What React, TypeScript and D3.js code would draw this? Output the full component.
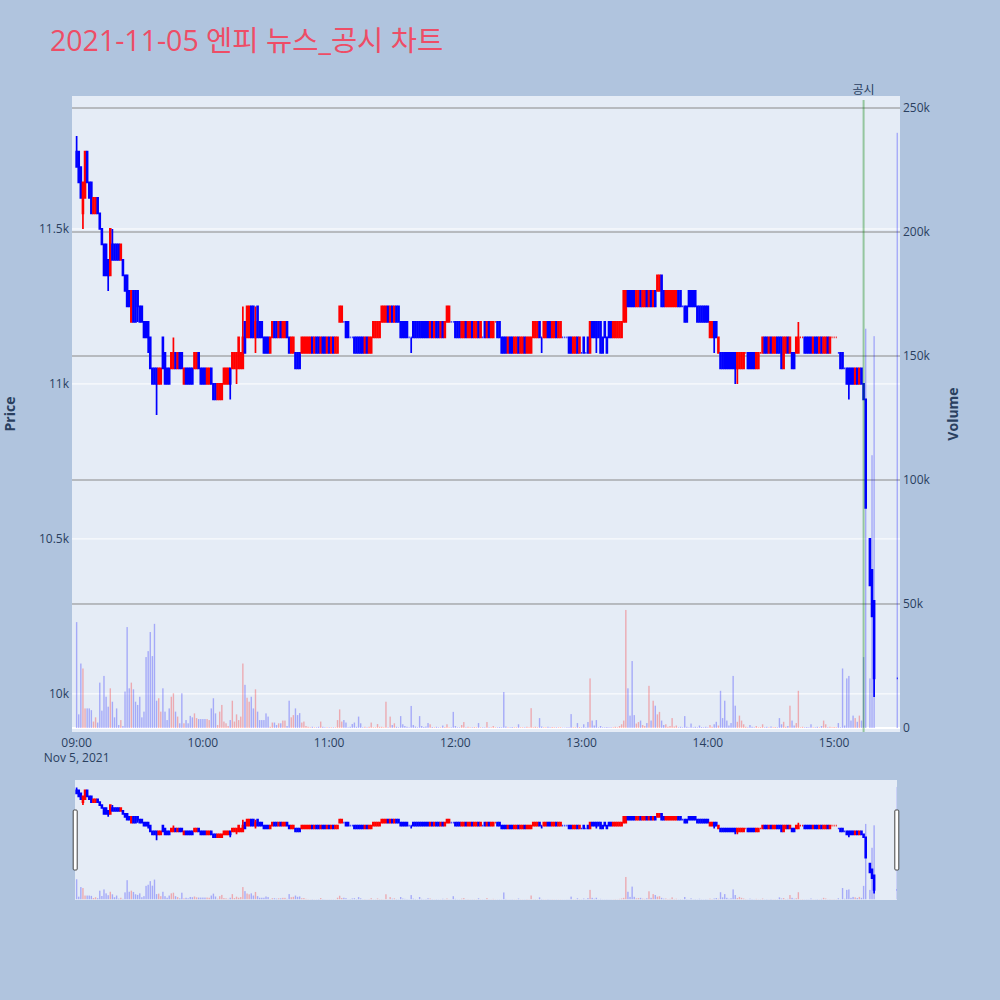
import * as d3 from 'd3';

// 1-minute candles of 엔피, 2021-11-05, index 0 = 09:00 (null = no trade, VI halt)
const SESSION_OPEN = Date.UTC(2021, 10, 5, 9, 0);
const MINUTE = 60000;

const opens: (number | null)[] = [
  11750, 11750, 11700, 11550, 11600, 11750, 11650, 11650, 11550, 11550,
  11600, 11550, 11500, 11450, 11450, 11400, 11350, 11450, 11450, 11450,
  11450, 11400, 11400, 11350, 11350, 11300, 11200, 11300, 11300, 11300,
  11250, 11250, 11200, 11200, 11200, 11150, 11050, 11050, 11050, 11000,
  11000, 11150, 11100, 11050, 11050, 11050, 11050, 11100, 11050, 11100,
  11100, 11000, 11050, 11050, 11050, 11050, 11050, 11050, 11100, 11050,
  11050, 11050, 11000, 11000, 11050, 11000, 11000, 10950, 10950, 10950,
  11000, 11000, 11000, 11050, 11050, 11050, 11050, 11050, 11050, 11050,
  11200, 11150, 11150, 11250, 11250, 11150, 11250, 11200, 11200, 11150,
  11150, 11150, 11100, 11150, 11200, 11200, 11150, 11200, 11150, 11150,
  11200, 11150, 11100, 11100, 11100, 11100, 11100, 11100, 11100, 11100,
  11100, 11100, 11150, 11100, 11150, 11150, 11100, 11150, 11150, 11100,
  11150, 11100, 11150, 11100, 11100, 11200, 11200, 11200, 11200, 11200,
  11150, 11150, 11150, 11150, 11150, 11150, 11150, 11100, 11150, 11100,
  11100, 11150, 11150, 11150, 11150, 11200, 11200, 11200, 11250, 11200,
  11250, 11200, 11250, 11250, 11200, 11200, 11200, 11200, 11150, 11150,
  11200, 11200, 11200, 11200, 11200, 11200, 11200, 11200, 11150, 11200,
  11150, 11200, 11200, 11150, 11200, 11150, 11200, 11200, 11200, 11200,
  11200, 11200, 11200, 11150, 11150, 11200, 11150, 11150, 11200, 11150,
  11150, 11200, 11150, 11150, 11200, 11150, 11200, 11150, 11150, 11200,
  11200, 11200, 11150, 11150, 11150, 11100, 11150, 11150, 11100, 11100,
  11150, 11100, 11100, 11150, 11100, 11100, 11100, 11150, 11150, 11150,
  11200, 11150, 11150, 11150, 11200, 11200, 11150, 11150, 11200, 11150,
  11150, 11150, 11150, 11150, 11150, 11150, 11100, 11100, 11150, 11100,
  11100, 11150, 11100, 11150, 11100, 11200, 11200, 11200, 11200, 11200,
  11150, 11200, 11150, 11200, 11200, 11150, 11150, 11150, 11150, 11150,
  11200, 11200, 11300, 11300, 11300, 11300, 11250, 11250, 11300, 11250,
  11250, 11300, 11250, 11300, 11250, 11300, 11300, 11300, 11350, 11300,
  11250, 11250, 11250, 11250, 11250, 11250, 11300, 11300, 11250, 11250,
  11250, 11300, 11300, 11300, 11300, 11250, 11250, 11250, 11250, 11250,
  11250, 11150, 11150, 11200, 11200, 11100, 11100, 11100, 11100, 11100,
  11100, 11100, 11100, 11100, 11050, 11050, 11050, 11050, 11100, 11100,
  11100, 11100, 11100, 11050, 11050, 11100, 11100, 11150, 11150, 11100,
  11150, 11100, 11100, 11150, 11150, 11150, 11050, 11100, 11150, 11100,
  11100, 11100, 11100, 11100, 11150, 11150, 11150, 11150, 11150, 11150,
  11100, 11150, 11150, 11100, 11150, 11100, 11100, 11150, 11100, 11150,
  11150, 11150, 11100, 11100, 11100, 11050, 11050, 11050, 11050, 11050,
  11000, 11050, 11000, 11050, 11000, 10950, null, 10500, 10400, 10300,
];

const highs: (number | null)[] = [
  11800, 11750, 11700, 11650, 11750, 11750, 11650, 11650, 11600, 11600,
  11600, 11550, 11500, 11450, 11450, 11400, 11500, 11500, 11450, 11450,
  11450, 11450, 11400, 11350, 11350, 11300, 11300, 11300, 11300, 11300,
  11250, 11250, 11200, 11200, 11200, 11150, 11050, 11050, 11050, 11050,
  11050, 11150, 11100, 11050, 11050, 11100, 11150, 11100, 11100, 11100,
  11100, 11050, 11050, 11050, 11050, 11050, 11100, 11100, 11100, 11050,
  11050, 11050, 11050, 11050, 11050, 11000, 11000, 11000, 11000, 11000,
  11050, 11050, 11050, 11050, 11100, 11100, 11100, 11150, 11100, 11250,
  11200, 11250, 11250, 11250, 11250, 11250, 11250, 11200, 11200, 11150,
  11150, 11150, 11150, 11200, 11200, 11200, 11200, 11200, 11200, 11200,
  11200, 11150, 11150, 11150, 11100, 11100, 11100, 11150, 11150, 11150,
  11150, 11150, 11150, 11150, 11150, 11150, 11150, 11150, 11150, 11150,
  11150, 11150, 11150, 11150, 11150, 11250, 11250, 11200, 11200, 11200,
  11150, 11150, 11150, 11150, 11150, 11150, 11150, 11150, 11150, 11150,
  11150, 11200, 11200, 11200, 11200, 11250, 11250, 11250, 11250, 11250,
  11250, 11250, 11250, 11250, 11200, 11200, 11200, 11200, 11150, 11150,
  11200, 11200, 11200, 11200, 11200, 11200, 11200, 11200, 11200, 11200,
  11200, 11200, 11200, 11200, 11200, 11200, 11250, 11250, 11200, 11200,
  11200, 11200, 11200, 11200, 11200, 11200, 11200, 11200, 11200, 11200,
  11200, 11200, 11200, 11150, 11200, 11200, 11200, 11200, 11200, 11200,
  11200, 11200, 11150, 11150, 11150, 11150, 11150, 11150, 11150, 11150,
  11150, 11150, 11150, 11150, 11150, 11150, 11150, 11200, 11200, 11200,
  11200, 11150, 11200, 11200, 11200, 11200, 11200, 11200, 11200, 11200,
  11200, 11150, 11150, 11150, 11150, 11150, 11150, 11150, 11150, 11150,
  11100, 11150, 11100, 11150, 11200, 11200, 11200, 11200, 11200, 11200,
  11150, 11200, 11150, 11200, 11200, 11200, 11200, 11200, 11200, 11200,
  11300, 11300, 11300, 11300, 11300, 11300, 11300, 11300, 11300, 11300,
  11300, 11300, 11300, 11300, 11300, 11300, 11350, 11350, 11350, 11300,
  11300, 11300, 11300, 11300, 11300, 11300, 11300, 11300, 11250, 11250,
  11250, 11300, 11300, 11300, 11300, 11250, 11250, 11250, 11250, 11250,
  11250, 11200, 11200, 11200, 11200, 11150, 11100, 11100, 11100, 11100,
  11100, 11100, 11100, 11100, 11100, 11100, 11100, 11100, 11100, 11100,
  11100, 11100, 11100, 11100, 11100, 11100, 11150, 11150, 11150, 11150,
  11150, 11150, 11150, 11150, 11150, 11150, 11150, 11150, 11150, 11150,
  11100, 11100, 11150, 11200, 11150, 11150, 11150, 11150, 11150, 11150,
  11150, 11150, 11150, 11150, 11150, 11150, 11150, 11150, 11150, 11150,
  11150, 11150, 11100, 11100, 11100, 11050, 11050, 11050, 11050, 11050,
  11050, 11050, 11050, 11050, 11000, 10950, null, 10500, 10400, 10300,
];

const lows: (number | null)[] = [
  11700, 11650, 11600, 11500, 11600, 11650, 11600, 11550, 11550, 11550,
  11550, 11500, 11450, 11350, 11350, 11300, 11350, 11400, 11400, 11400,
  11400, 11400, 11350, 11300, 11250, 11250, 11200, 11200, 11200, 11200,
  11200, 11200, 11150, 11150, 11100, 11050, 11000, 11000, 10900, 11000,
  11000, 11050, 11000, 11000, 11000, 11050, 11050, 11050, 11050, 11050,
  11050, 11000, 11000, 11000, 11000, 11000, 11050, 11050, 11050, 11000,
  11000, 11000, 11000, 11000, 11000, 10950, 10950, 10950, 10950, 10950,
  11000, 11000, 11000, 10950, 11050, 11050, 11000, 11050, 11050, 11050,
  11100, 11150, 11150, 11150, 11150, 11100, 11150, 11150, 11150, 11100,
  11100, 11100, 11100, 11150, 11150, 11150, 11150, 11150, 11150, 11150,
  11150, 11100, 11100, 11100, 11050, 11050, 11050, 11100, 11100, 11100,
  11100, 11100, 11100, 11100, 11100, 11100, 11100, 11100, 11100, 11100,
  11100, 11100, 11100, 11100, 11100, 11200, 11200, 11200, 11150, 11150,
  11150, 11150, 11100, 11100, 11100, 11100, 11100, 11100, 11100, 11100,
  11100, 11150, 11150, 11150, 11150, 11200, 11200, 11200, 11200, 11200,
  11200, 11200, 11200, 11200, 11150, 11150, 11150, 11150, 11150, 11100,
  11150, 11150, 11150, 11150, 11150, 11150, 11150, 11150, 11150, 11150,
  11150, 11150, 11150, 11150, 11150, 11150, 11200, 11200, 11200, 11200,
  11150, 11150, 11150, 11150, 11150, 11150, 11150, 11150, 11150, 11150,
  11150, 11150, 11150, 11150, 11150, 11150, 11150, 11150, 11150, 11200,
  11150, 11150, 11100, 11100, 11100, 11100, 11100, 11100, 11100, 11100,
  11100, 11100, 11100, 11100, 11100, 11100, 11100, 11150, 11150, 11150,
  11150, 11100, 11150, 11150, 11150, 11150, 11150, 11150, 11150, 11150,
  11150, 11150, 11150, 11150, 11100, 11100, 11100, 11100, 11100, 11100,
  11100, 11100, 11100, 11100, 11100, 11150, 11150, 11100, 11150, 11100,
  11100, 11150, 11100, 11150, 11150, 11150, 11150, 11150, 11150, 11150,
  11200, 11200, 11250, 11250, 11250, 11250, 11250, 11250, 11250, 11250,
  11250, 11250, 11250, 11250, 11250, 11250, 11300, 11300, 11250, 11250,
  11250, 11250, 11250, 11250, 11250, 11250, 11250, 11250, 11250, 11200,
  11200, 11250, 11250, 11250, 11250, 11200, 11200, 11200, 11200, 11200,
  11200, 11150, 11150, 11100, 11150, 11100, 11050, 11050, 11050, 11050,
  11050, 11050, 11050, 11000, 11000, 11050, 11050, 11050, 11100, 11050,
  11050, 11050, 11050, 11050, 11050, 11100, 11100, 11100, 11100, 11100,
  11100, 11100, 11100, 11100, 11100, 11050, 11050, 11100, 11100, 11100,
  11050, 11050, 11100, 11100, 11150, 11150, 11100, 11100, 11100, 11100,
  11100, 11100, 11100, 11100, 11100, 11100, 11100, 11100, 11100, 11150,
  11150, 11150, 11100, 11050, 11050, 11050, 11000, 10950, 11000, 11000,
  11000, 11000, 11000, 11000, 10950, 10600, null, 10350, 10250, 9990,
];

const closes: (number | null)[] = [
  11700, 11650, 11600, 11650, 11750, 11650, 11600, 11550, 11600, 11600,
  11550, 11500, 11450, 11350, 11350, 11350, 11500, 11400, 11400, 11400,
  11400, 11450, 11350, 11300, 11250, 11250, 11300, 11200, 11200, 11250,
  11200, 11200, 11150, 11150, 11150, 11050, 11000, 11000, 11000, 11050,
  11050, 11050, 11000, 11000, 11000, 11100, 11100, 11050, 11100, 11050,
  11050, 11050, 11000, 11000, 11000, 11000, 11100, 11100, 11050, 11000,
  11000, 11000, 11050, 11050, 11000, 10950, 10950, 11000, 11000, 11000,
  11050, 11050, 11050, 11000, 11100, 11100, 11100, 11150, 11100, 11150,
  11100, 11250, 11250, 11150, 11150, 11200, 11150, 11150, 11150, 11100,
  11100, 11100, 11150, 11200, 11150, 11150, 11200, 11150, 11200, 11200,
  11150, 11100, 11150, 11150, 11050, 11050, 11050, 11150, 11150, 11150,
  11150, 11150, 11100, 11150, 11100, 11100, 11150, 11100, 11100, 11150,
  11100, 11150, 11100, 11150, 11150, 11250, 11250, 11200, 11150, 11150,
  11150, 11150, 11100, 11100, 11100, 11100, 11100, 11150, 11100, 11150,
  11150, 11200, 11200, 11200, 11200, 11250, 11250, 11250, 11200, 11250,
  11200, 11250, 11200, 11200, 11150, 11150, 11150, 11150, 11150, 11150,
  11150, 11150, 11150, 11150, 11150, 11150, 11150, 11150, 11200, 11150,
  11200, 11150, 11150, 11200, 11150, 11200, 11250, 11250, 11200, 11200,
  11150, 11150, 11150, 11200, 11200, 11150, 11200, 11200, 11150, 11200,
  11200, 11150, 11200, 11150, 11150, 11200, 11150, 11200, 11200, 11200,
  11150, 11150, 11100, 11100, 11100, 11150, 11100, 11100, 11150, 11150,
  11100, 11150, 11150, 11100, 11150, 11150, 11150, 11200, 11200, 11200,
  11150, 11150, 11200, 11200, 11150, 11150, 11200, 11200, 11150, 11200,
  11200, 11150, 11150, 11150, 11100, 11100, 11150, 11150, 11100, 11150,
  11100, 11100, 11100, 11100, 11200, 11150, 11150, 11150, 11150, 11100,
  11100, 11150, 11100, 11150, 11150, 11200, 11200, 11200, 11200, 11200,
  11300, 11300, 11250, 11250, 11250, 11250, 11300, 11300, 11250, 11300,
  11300, 11250, 11300, 11250, 11300, 11250, 11350, 11350, 11250, 11250,
  11300, 11300, 11300, 11300, 11300, 11300, 11250, 11250, 11250, 11200,
  11200, 11250, 11250, 11250, 11250, 11200, 11200, 11200, 11200, 11200,
  11200, 11200, 11200, 11150, 11150, 11150, 11050, 11050, 11050, 11050,
  11050, 11050, 11050, 11050, 11100, 11100, 11100, 11100, 11100, 11050,
  11050, 11050, 11050, 11100, 11100, 11100, 11150, 11100, 11100, 11150,
  11100, 11150, 11150, 11100, 11100, 11050, 11150, 11150, 11100, 11150,
  11050, 11050, 11150, 11150, 11150, 11150, 11100, 11100, 11100, 11100,
  11150, 11100, 11100, 11150, 11100, 11150, 11150, 11100, 11150, 11150,
  11150, 11150, 11100, 11050, 11050, 11050, 11000, 11000, 11000, 11000,
  11050, 11000, 11050, 11000, 10950, 10600, null, 10350, 10250, 10050,
];

const volumes: (number | null)[] = [
  42700, 5500, 26000, 24000, 7900, 7900, 7900, 7200, 2600, 4300,
  2200, 18300, 7000, 21000, 12600, 8600, 16000, 10600, 4300, 7900,
  1200, 3200, 800, 14700, 40700, 16000, 18300, 15600, 10600, 9300,
  12600, 4300, 6600, 28600, 31000, 38700, 29000, 42000, 11000, 12000,
  6600, 16000, 6600, 3200, 7900, 12600, 14000, 6600, 4600, 1900,
  14000, 1900, 3200, 1900, 4900, 4300, 5900, 4000, 3600, 3600,
  3600, 3600, 3600, 3200, 7900, 12000, 5900, 1200, 6600, 9300,
  2600, 1900, 800, 3200, 11000, 2600, 5500, 3200, 4600, 26000,
  17400, 12200, 10600, 12600, 7900, 15600, 6600, 3200, 3200, 3200,
  5900, 4600, 500, 2200, 2200, 1200, 1900, 1900, 3000, 3000,
  800, 11000, 4300, 5200, 7900, 5200, 6000, 2200, 2600, 800,
  500, 300, 500, 300, 300, 500, 2600, 500, 300, 300,
  300, 300, 300, 300, 3200, 7500, 2600, 3200, 2200, 300,
  500, 1600, 2200, 500, 4600, 1900, 300, 500, 300, 500,
  2200, 300, 300, 1600, 500, 500, 300, 10600, 300, 4600,
  1200, 1900, 500, 300, 4800, 1500, 800, 500, 300, 8900,
  1200, 600, 300, 4800, 800, 400, 600, 2000, 1500, 400,
  300, 500, 300, 300, 1000, 400, 1500, 300, 300, 6500,
  800, 300, 300, 1200, 2400, 300, 500, 300, 300, 400,
  300, 2000, 300, 300, 300, 2400, 300, 300, 800, 300,
  300, 400, 300, 14500, 600, 300, 300, 400, 300, 300,
  1500, 300, 300, 300, 500, 300, 8000, 300, 500, 300,
  4000, 600, 300, 300, 500, 300, 400, 300, 300, 300,
  300, 200, 200, 300, 300, 5600, 300, 300, 2000, 400,
  300, 1500, 300, 2400, 20000, 3000, 1000, 3200, 300, 800,
  300, 300, 400, 300, 300, 300, 500, 300, 800, 1500,
  3000, 47600, 16000, 5000, 27000, 5200, 1800, 2400, 3000, 1200,
  800, 2000, 17000, 3000, 11000, 9000, 5500, 6500, 3000, 1200,
  1500, 500, 800, 4000, 600, 1000, 300, 500, 300, 4800,
  500, 300, 1800, 300, 500, 300, 1000, 400, 300, 500,
  300, 1200, 500, 1500, 2500, 1000, 15000, 4000, 11000, 3000,
  1000, 2000, 21000, 9000, 2500, 5000, 3000, 1500, 500, 300,
  1200, 500, 300, 800, 300, 400, 1500, 300, 500, 300,
  600, 300, 400, 300, 4000, 1500, 2500, 500, 800, 9000,
  3000, 1000, 2000, 15000, 300, 500, 300, 400, 300, 1500,
  300, 300, 500, 300, 800, 3000, 1500, 300, 500, 300,
  400, 300, 2000, 300, 24000, 1000, 20000, 21000, 3000, 5000,
  4000, 2500, 5000, 3000, 28600, 161000, null, 20000, 110000, 158000,
];

// closing single-price auction at 15:30
const auctionTime = Date.UTC(2021, 10, 5, 15, 30);
const auctionPrice = 10050;
const auctionVolume = 240000;

// disclosure time marker
const noticeTime = Date.UTC(2021, 10, 5, 15, 14);
const noticeLabel = '공시';

const titleText = '2021-11-05 엔피 뉴스_공시 차트';
const priceTicks = [10000, 10500, 11000, 11500];
const volumeTicks = [0, 50000, 100000, 150000, 200000, 250000];

const FONT = '"Open Sans", "Noto Sans CJK KR", verdana, arial, sans-serif';
const TEXT = '#2a3f5f';
const UP = '#ff0000';
const DOWN = '#0000ff';

type Bar = { t: Date; o: number; h: number; l: number; c: number; v: number; up: boolean };

function buildBars(): Bar[] {
  const out: Bar[] = [];
  let prevClose: number | null = null;
  let up = true;
  const push = (t: number, o: number, h: number, l: number, c: number, v: number) => {
    // plotly rule: doji takes direction from change vs previous close
    if (c === o) {
      if (prevClose !== null && c !== prevClose) up = c > prevClose;
    } else up = c > o;
    prevClose = c;
    out.push({ t: new Date(t), o, h, l, c, v, up });
  };
  opens.forEach((o, i) => {
    if (o == null) return;
    push(SESSION_OPEN + i * MINUTE, o, highs[i]!, lows[i]!, closes[i]!, volumes[i] ?? 0);
  });
  push(auctionTime, auctionPrice, auctionPrice, auctionPrice, auctionPrice, auctionVolume);
  return out;
}

const bars = buildBars();

const plot = { left: 72, right: 900, top: 96, bottom: 732 };
const slider = { left: 75, right: 897, top: 780, bottom: 900 };

const x = d3
  .scaleUtc()
  .domain([new Date(SESSION_OPEN - 2.2 * MINUTE), new Date(SESSION_OPEN + 391.3 * MINUTE)])
  .range([plot.left, plot.right]);
const priceDomain = [9877, 11929];
const volDomain = [-1613, 254839];
const yPrice = d3.scaleLinear().domain(priceDomain).range([plot.bottom, plot.top]);
const yVol = d3.scaleLinear().domain(volDomain).range([plot.bottom, plot.top]);
const yPriceS = d3.scaleLinear().domain(priceDomain).range([slider.bottom, slider.top]);
const yVolS = d3.scaleLinear().domain(volDomain).range([slider.bottom, slider.top]);

const fmtK = d3.format('~s');
const fmtHour = d3.utcFormat('%H:%M');

function candlePath(b: Bar, y: d3.ScaleLinear<number, number>, bw: number) {
  const cx = x(b.t);
  const yo = y(b.o);
  const yc = y(b.c);
  const top = Math.min(yo, yc);
  const bot = Math.max(yo, yc);
  return (
    `M${cx - bw / 2},${top}H${cx + bw / 2}V${bot}H${cx - bw / 2}Z` +
    `M${cx},${y(b.h)}V${top}M${cx},${bot}V${y(b.l)}`
  );
}

function Marks({ y, yv }: { y: d3.ScaleLinear<number, number>; yv: d3.ScaleLinear<number, number> }) {
  const v0 = yv(0);
  return (
    <g>
      {bars.map((b, i) => (
        <path
          key={'c' + i}
          d={candlePath(b, y, 0.9)}
          fill={b.up ? UP : DOWN}
          stroke={b.up ? UP : DOWN}
          strokeWidth={1.7}
        />
      ))}
      {bars.map((b, i) => (
        <rect
          key={'v' + i}
          x={x(b.t) - 0.7}
          width={1.4}
          y={yv(b.v)}
          height={Math.max(0, v0 - yv(b.v))}
          fill={b.up ? UP : DOWN}
          opacity={0.28}
        />
      ))}
    </g>
  );
}

export default function App() {
  const hours = x.ticks(d3.utcHour.every(1)!).filter((d) => d.getUTCHours() >= 9 && d.getUTCHours() <= 15);
  const nx = x(new Date(noticeTime));
  return (
    <svg
      width={1000}
      height={1000}
      style={{ position: 'absolute', left: 0, top: 0, fontFamily: FONT }}
    >
      <defs>
        <clipPath id="plotClip">
          <rect x={plot.left} y={plot.top} width={plot.right - plot.left} height={plot.bottom - plot.top} />
        </clipPath>
        <clipPath id="sliderClip">
          <rect x={slider.left} y={slider.top} width={slider.right - slider.left} height={slider.bottom - slider.top} />
        </clipPath>
      </defs>
      <rect width={1000} height={1000} fill="#b0c4de" />

      <text x={50} y={51} fontSize={28.5} fill="#ee4d66">
        {titleText}
      </text>

      {/* main plot */}
      <rect x={plot.left} y={plot.top} width={plot.right - plot.left} height={plot.bottom - plot.top} fill="#e5ecf6" />
      {priceTicks.map((t) => (
        <line key={'pg' + t} x1={plot.left} x2={plot.right} y1={yPrice(t)} y2={yPrice(t)} stroke="#fff" strokeWidth={1} />
      ))}
      {volumeTicks
        .filter((t) => t > 0)
        .map((t) => (
          <line key={'vg' + t} x1={plot.left} x2={plot.right} y1={yVol(t)} y2={yVol(t)} stroke="#888" strokeWidth={1} />
        ))}
      <line x1={plot.left} x2={plot.right} y1={yVol(0)} y2={yVol(0)} stroke="#fff" strokeWidth={2} />

      <g clipPath="url(#plotClip)">
        <Marks y={yPrice} yv={yVol} />
      </g>

      <line x1={nx} x2={nx} y1={100} y2={plot.bottom} stroke="green" strokeWidth={2} opacity={0.35} />
      <text x={nx} y={94} fontSize={12} fill={TEXT} textAnchor="middle">
        {noticeLabel}
      </text>

      {/* axes */}
      {priceTicks.map((t) => (
        <text key={'pt' + t} x={69} y={yPrice(t) + 4.2} fontSize={12} fill={TEXT} textAnchor="end">
          {fmtK(t)}
        </text>
      ))}
      {volumeTicks.map((t) => (
        <text key={'vt' + t} x={903} y={yVol(t) + 4.2} fontSize={12} fill={TEXT} textAnchor="start">
          {fmtK(t)}
        </text>
      ))}
      {hours.map((d) => (
        <text key={'h' + d.getTime()} x={x(d)} y={747} fontSize={12} fill={TEXT} textAnchor="middle">
          {fmtHour(d)}
        </text>
      ))}
      <text x={x(new Date(SESSION_OPEN))} y={762} fontSize={12} fill={TEXT} textAnchor="middle">
        Nov 5, 2021
      </text>
      <text transform={`translate(15,${(plot.top + plot.bottom) / 2}) rotate(-90)`} fontSize={14} fontWeight="bold" fill={TEXT} textAnchor="middle">
        Price
      </text>
      <text transform={`translate(958,${(plot.top + plot.bottom) / 2}) rotate(-90)`} fontSize={14} fontWeight="bold" fill={TEXT} textAnchor="middle">
        Volume
      </text>

      {/* range slider */}
      <rect x={slider.left} y={slider.top} width={slider.right - slider.left} height={slider.bottom - slider.top} fill="#e5ecf6" />
      <g clipPath="url(#sliderClip)">
        <Marks y={yPriceS} yv={yVolS} />
      </g>
      <rect x={73.2} y={810} width={4} height={60} rx={1} fill="#fff" stroke="#444" strokeWidth={1} />
      <rect x={894.8} y={810} width={4} height={60} rx={1} fill="#fff" stroke="#444" strokeWidth={1} />
    </svg>
  );
}
